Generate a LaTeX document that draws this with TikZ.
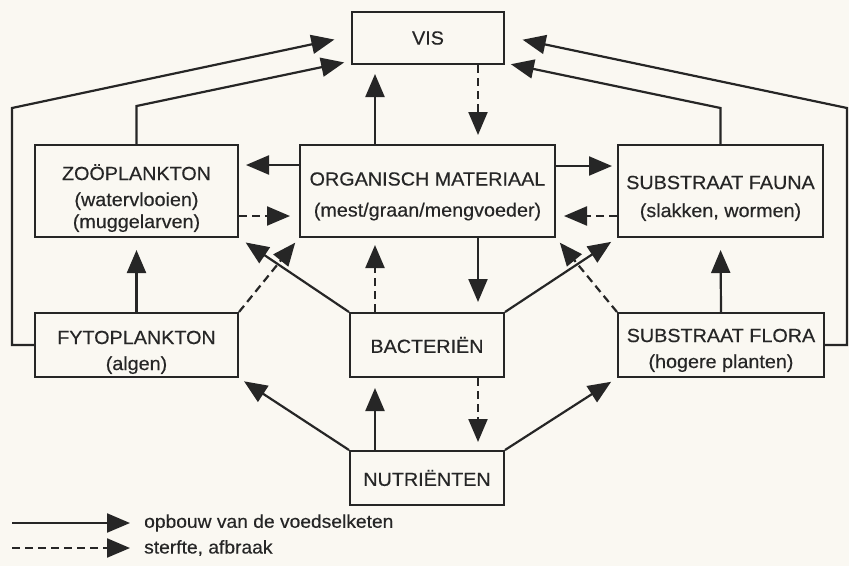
\documentclass[tikz,border=0pt]{standalone}
\usepackage{fontspec}
\setmainfont{Liberation Sans}
\newfontfamily\dfont[FakeStretch=1.04,FakeBold=0.4]{Liberation Sans}
\usetikzlibrary{arrows.meta,calc}
\definecolor{ink}{HTML}{262626}
\definecolor{paper}{HTML}{FAF8F2}
\newcommand{\topstrut}[1]{\rule{0pt}{#1}}
\begin{document}
\begin{tikzpicture}[x=1pt,y=-1pt,
  box/.style={draw=ink, line width=2pt, align=center, inner sep=0pt, text=ink,
    font=\dfont\fontsize{19}{26}\selectfont},
  lab/.style={text=ink, inner sep=0pt, font=\dfont\fontsize{18.5}{22}\selectfont},
  arr/.style={draw=ink, line width=2.2pt, -{Triangle[length=23pt,width=19pt]}},
  darr/.style={arr, dash pattern=on 8pt off 5pt}
]
\fill[paper] (0,0) rectangle (849,566);
\useasboundingbox (0,0) rectangle (849,566);

% boxes
\node[box, minimum width=152pt, minimum height=52pt] (vis) at (428,38) {VIS};
\node[box, minimum width=203pt, minimum height=92pt] (zoo) at (136.5,191)
  {\topstrut{30pt}ZOÖPLANKTON\\(watervlooien)\\[-4pt](muggelarven)};
\node[box, minimum width=255pt, minimum height=92pt] (org) at (427.5,191)
  {\topstrut{24pt}ORGANISCH MATERIAAL\\[5pt](mest/graan/mengvoeder)};
\node[box, minimum width=205pt, minimum height=92pt] (fauna) at (720.5,191)
  {\topstrut{28pt}SUBSTRAAT FAUNA\\[2pt](slakken, wormen)};
\node[box, minimum width=203pt, minimum height=64pt] (fyto) at (136.5,345)
  {\topstrut{28pt}FYTOPLANKTON\\(algen)};
\node[box, minimum width=154pt, minimum height=64pt] (bact) at (427,345) {BACTERIËN};
\node[box, minimum width=206pt, minimum height=64pt] (flora) at (721,345)
  {\topstrut{24pt}SUBSTRAAT FLORA\\(hogere planten)};
\node[box, minimum width=154pt, minimum height=54pt] (nutr) at (427,478) {NUTRIËNTEN};

% bend points
\coordinate (lc) at (12,345);
\coordinate (lb) at (12,108);
\coordinate (zb) at (136.5,106);
\coordinate (fb) at (720.5,108);
\coordinate (rc) at (847,345);
\coordinate (rb) at (847,108);

% to VIS
\draw[arr, shorten >=17pt] (fyto.west) -- (lc) -- (lb) -- ($(vis.west)+(0,-2)$);
\draw[arr, shorten >=7pt] (zoo.north) -- (zb) -- ($(vis.south west)+(0,-4)$);
\draw[arr, shorten >=6pt] (fauna.north) -- (fb) -- ($(vis.south east)+(0,-2)$);
\draw[arr, shorten >=18pt] (flora.east) -- (rc) -- (rb) -- ($(vis.east)+(0,-2)$);
\draw[arr, shorten >=9pt] ($(org.north)+(-52.5,0)$) -- ($(vis.south)+(-53,0)$);
\draw[darr, shorten >=9pt] ($(vis.south)+(50,0)$) -- ($(org.north)+(50.5,0)$);

% horizontal between middle row
\draw[arr, shorten >=7pt] ($(org.north west)+(0,21)$) -- ($(zoo.north east)+(0,21)$);
\draw[darr, shorten >=9pt] ($(zoo.north east)+(0,72)$) -- ($(org.north west)+(0,72)$);
\draw[arr, shorten >=5pt] ($(org.north east)+(0,22)$) -- ($(fauna.north west)+(0,22)$);
\draw[darr, shorten >=8pt] ($(fauna.north west)+(0,72)$) -- ($(org.north east)+(0,72)$);

% verticals
\draw[arr, shorten >=12pt] (fyto.north) -- (zoo.south);
\draw[arr, shorten >=12pt] (flora.north) -- (fauna.south);
\draw[arr, shorten >=10pt] ($(org.south)+(50.5,0)$) -- ($(bact.north)+(51,0)$);
\draw[darr, shorten >=7pt] ($(bact.north)+(-52,0)$) -- ($(org.south)+(-52.5,0)$);
\draw[arr, shorten >=10pt] ($(nutr.north)+(-52,0)$) -- ($(bact.south)+(-52,0)$);
\draw[darr, shorten >=8pt] ($(bact.south)+(51,0)$) -- ($(nutr.north)+(51,0)$);

% diagonals
\draw[darr, shorten >=6pt] (fyto.north east) -- (org.south west);
\draw[arr, shorten >=8pt] (bact.north west) -- (zoo.south east);
\draw[arr, shorten >=7pt] (bact.north east) -- (fauna.south west);
\draw[darr, shorten >=6pt] (flora.north west) -- (org.south east);
\draw[arr, shorten >=6pt] (nutr.north west) -- (fyto.south east);
\draw[arr, shorten >=7pt] (nutr.north east) -- (flora.south west);

% legend
\coordinate (l1a) at (12,523);
\coordinate (l1b) at (130,523);
\coordinate (l2a) at (12,548);
\coordinate (l2b) at (130,548);
\draw[arr] (l1a) -- (l1b);
\draw[darr] (l2a) -- (l2b);
\node[lab, anchor=west] (leg1) at (144,523) {opbouw van de voedselketen};
\node[lab, anchor=west] (leg2) at (144,548) {sterfte, afbraak};
\end{tikzpicture}
\end{document}
